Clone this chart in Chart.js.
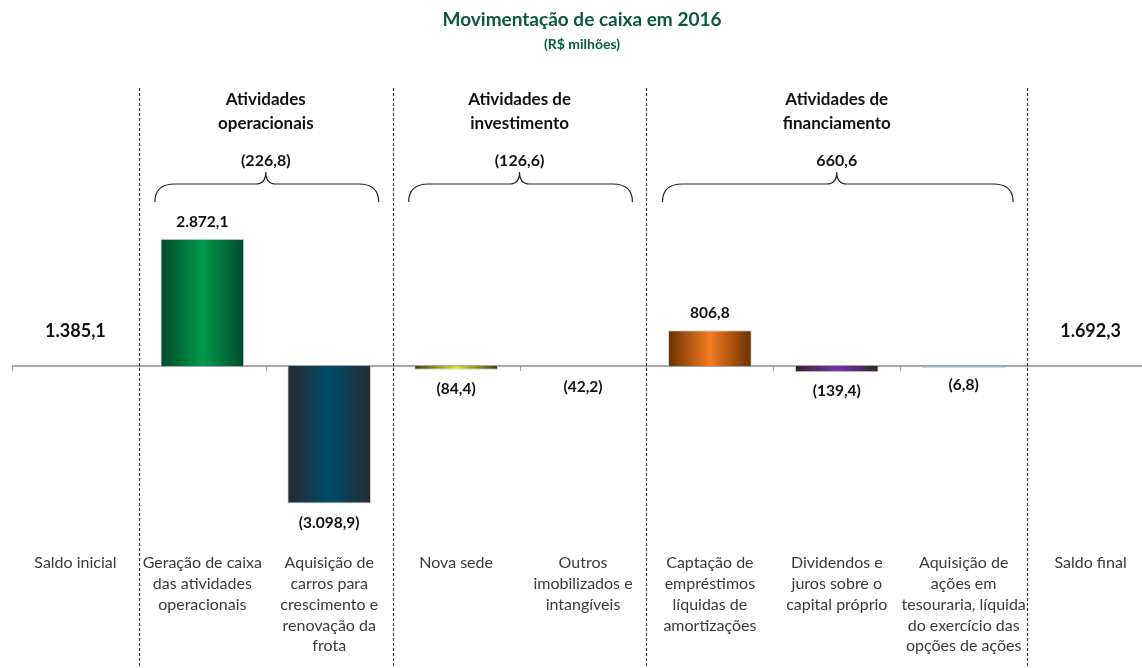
<!DOCTYPE html>
<html>
<head>
<meta charset="utf-8">
<script src="https://cdn.jsdelivr.net/npm/chart.js@4/dist/chart.umd.min.js"></script>
<style>
  html, body { margin: 0; padding: 0; background: #fff; overflow: hidden; }
  #wrap { width: 1160px; height: 668px; }
</style>
</head>
<body>
<div id="wrap"><canvas id="cashChart" width="1160" height="668"></canvas></div>
<script>
// chart data
const categories = [
    ['Saldo inicial'],
    ['Geração de caixa', 'das atividades', 'operacionais'],
    ['Aquisição de', 'carros para', 'crescimento e', 'renovação da', 'frota'],
    ['Nova sede'],
    ['Outros', 'imobilizados e', 'intangíveis'],
    ['Captação de', 'empréstimos', 'líquidas de', 'amortizações'],
    ['Dividendos e', 'juros sobre o', 'capital próprio'],
    ['Aquisição de', 'ações em', 'tesouraria, líquida', 'do exercício das', 'opções de ações'],
    ['Saldo final']
];
const values = [0, 2872.1, -3098.9, -84.4, -42.2, 806.8, -139.4, -6.8, 0];
const saldoInicial = 1385.1;
const saldoFinal = 1692.3;

const groupTitles = [
    ['Atividades', 'operacionais'],
    ['Atividades de', 'investimento'],
    ['Atividades de', 'financiamento']
];
const groupFirst = [1, 3, 5];
const groupLast = [2, 4, 7];

// [edge, center] colours for each bar
const barColors = [
    null,
    ['#004a2c', '#00994c'],
    ['#262a2e', '#004c6a'],
    ['#3c3c10', '#e2e224'],
    null,
    ['#6a3000', '#f47a20'],
    ['#2a2a20', '#7a30b0'],
    ['#8db3e2', '#8db3e2'],
    null
];

const GREEN = '#0b5a3b';
const FONT = 'Lato, "Open Sans", sans-serif';

function fmt(v) {
    const abs = Math.abs(v);
    let parts = abs.toFixed(1).split('.');
    let intPart = parts[0].replace(/\B(?=(\d{3})+(?!\d))/g, '.');
    const s = intPart + ',' + parts[1];
    return v < 0 ? '(' + s + ')' : s;
}

function barFill(context) {
    const chart = context.chart;
    const i = context.dataIndex;
    const c = barColors[i];
    if (!c) return 'rgba(0,0,0,0)';
    const x = chart.scales.x;
    if (!chart.chartArea || !x) return c[1];
    const cx = x.getPixelForValue(i);
    const w = (x.width / categories.length) * 0.66;
    const g = chart.ctx.createLinearGradient(cx - w / 2, 0, cx + w / 2, 0);
    g.addColorStop(0, c[0]);
    g.addColorStop(0.5, c[1]);
    g.addColorStop(1, c[0]);
    return g;
}

const decorPlugin = {
    id: 'decor',
    beforeDatasetsDraw(chart) {
        const ctx = chart.ctx;
        const x = chart.scales.x;
        const y = chart.scales.y;
        const area = chart.chartArea;
        const y0 = y.getPixelForValue(0);
        const step = x.width / categories.length;
        ctx.save();
        ctx.strokeStyle = '#a6a6a6';
        ctx.lineWidth = 2;
        ctx.beginPath();
        ctx.moveTo(area.left, y0);
        ctx.lineTo(area.right, y0);
        ctx.stroke();
        ctx.lineWidth = 1;
        for (let i = 0; i <= categories.length; i++) {
            const bx = Math.round(area.left + i * step) + 0.5;
            ctx.beginPath();
            ctx.moveTo(bx, y0);
            ctx.lineTo(bx, y0 + 5);
            ctx.stroke();
        }
        ctx.restore();
    },
    afterDatasetsDraw(chart) {
        const ctx = chart.ctx;
        const x = chart.scales.x;
        const y = chart.scales.y;
        const area = chart.chartArea;
        const y0 = y.getPixelForValue(0);
        const step = x.width / categories.length;
        ctx.save();

        // title
        ctx.textAlign = 'center';
        ctx.textBaseline = 'middle';
        ctx.fillStyle = GREEN;
        ctx.font = 'bold 19px ' + FONT;
        ctx.fillText('Movimentação de caixa em 2016', 582, 20);
        ctx.font = 'bold 14px ' + FONT;
        ctx.fillText('(R$ milhões)', 582, 44);

        // dashed separators between groups
        ctx.strokeStyle = '#333';
        ctx.lineWidth = 1;
        ctx.setLineDash([3, 2]);
        const seps = [groupFirst[0], groupFirst[1], groupFirst[2], groupLast[2] + 1];
        seps.forEach(k => {
            const sx = Math.round(area.left + k * step) + 0.5;
            ctx.beginPath();
            ctx.moveTo(sx, 88);
            ctx.lineTo(sx, chart.height);
            ctx.stroke();
        });
        ctx.setLineDash([]);

        // bar value labels
        ctx.fillStyle = '#111';
        ctx.font = 'bold 15.5px ' + FONT;
        values.forEach((v, i) => {
            if (v === 0) return;
            const px = x.getPixelForValue(i);
            const py = y.getPixelForValue(v);
            ctx.fillText(fmt(v), px, v > 0 ? py - 17 : py + 19);
        });

        // opening and closing balance
        ctx.font = 'bold 18px ' + FONT;
        ctx.fillText(fmt(saldoInicial), x.getPixelForValue(0), y0 - 35);
        ctx.fillText(fmt(saldoFinal), x.getPixelForValue(categories.length - 1), y0 - 35);

        // groups: titles, totals, braces
        groupTitles.forEach((t, g) => {
            const left = area.left + groupFirst[g] * step;
            const right = area.left + (groupLast[g] + 1) * step;
            const cx = (left + right) / 2;
            ctx.fillStyle = '#111';
            ctx.font = 'bold 17px ' + FONT;
            ctx.fillText(t[0], cx, 100);
            ctx.fillText(t[1], cx, 124);
            let total = 0;
            for (let i = groupFirst[g]; i <= groupLast[g]; i++) total += values[i];
            ctx.font = 'bold 16px ' + FONT;
            ctx.fillText(fmt(total), cx, 161);

            const bl = left + 16;
            const br = right - 14;
            const top = 172, mid = 184, bot = 202;
            ctx.strokeStyle = '#222';
            ctx.lineWidth = 1.2;
            ctx.beginPath();
            ctx.moveTo(bl, bot);
            ctx.quadraticCurveTo(bl, mid, bl + 20, mid);
            ctx.lineTo(cx - 10, mid);
            ctx.quadraticCurveTo(cx, mid, cx, top);
            ctx.quadraticCurveTo(cx, mid, cx + 10, mid);
            ctx.lineTo(br - 20, mid);
            ctx.quadraticCurveTo(br, mid, br, bot);
            ctx.stroke();
        });
        ctx.restore();
    }
};

const ctx = document.getElementById('cashChart').getContext('2d');
const chart = new Chart(ctx, {
    type: 'bar',
    data: {
        labels: categories,
        datasets: [{
            data: values,
            backgroundColor: barFill,
            borderColor: 'rgba(190,200,195,0.7)',
            borderWidth: values.map((v, i) => barColors[i] ? 1 : 0),
            minBarLength: 2,
            barPercentage: 0.66,
            categoryPercentage: 1.0
        }]
    },
    options: {
        responsive: false,
        animation: false,
        layout: {
            padding: { left: 12, right: 6, top: 60, bottom: 0 }
        },
        plugins: {
            legend: { display: false },
            tooltip: { enabled: false },
            title: { display: false }
        },
        scales: {
            x: {
                grid: { display: false, drawTicks: false },
                border: { display: false },
                ticks: {
                    color: '#3a3a3a',
                    padding: 4,
                    maxRotation: 0,
                    autoSkip: false,
                    font: { family: FONT, size: 16, lineHeight: 1.31 }
                },
                afterFit: function (scale) {
                    scale.height = 120;
                }
            },
            y: {
                display: false,
                min: -4100,
                max: 6900
            }
        }
    },
    plugins: [decorPlugin]
});
</script>
</body>
</html>
